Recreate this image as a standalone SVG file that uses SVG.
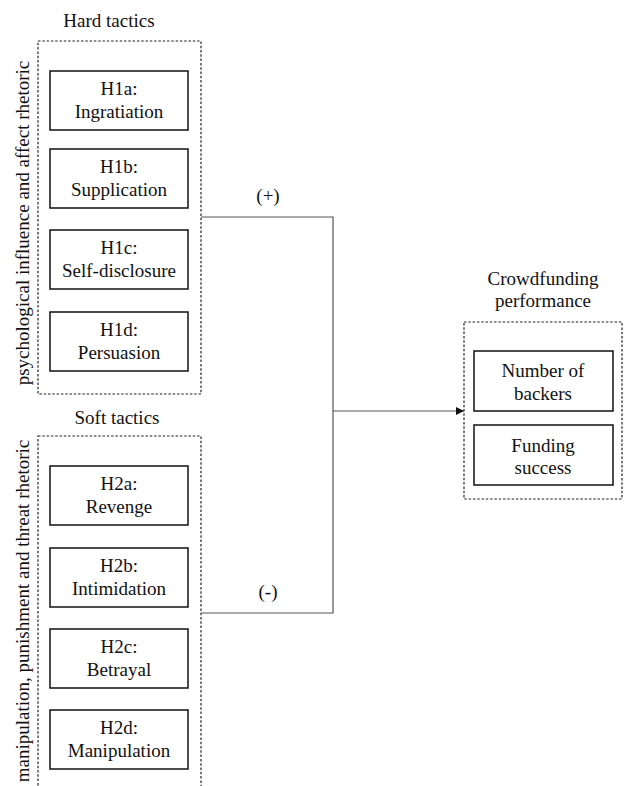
<svg xmlns="http://www.w3.org/2000/svg" width="624" height="786" viewBox="0 0 624 786" font-family="Liberation Serif, serif">
<style>
text{font-size:19px;fill:#111;text-anchor:middle}
.box{fill:#fff;stroke:#111;stroke-width:1.5}
.grp{fill:none;stroke:#222;stroke-width:1.2;stroke-dasharray:2.5,1.8}
.con{fill:none;stroke:#555;stroke-width:1.2}
</style>
<defs>
<marker id="arr" markerWidth="10" markerHeight="10" refX="9" refY="5" orient="auto" markerUnits="userSpaceOnUse">
<path d="M1,1 L9,5 L1,9 Z" fill="#111"/>
</marker>
</defs>
<rect width="624" height="786" fill="#fff"/>
<g id="hard-group">
<text x="109" y="27">Hard tactics</text>
<rect class="grp" x="38" y="41" width="163" height="353"/>
<text transform="translate(29,223) rotate(-90)">psychological influence and affect rhetoric</text>
</g>
<g id="H1a"><rect class="box" x="50" y="71" width="138" height="59"/><text x="119" y="95">H1a:</text><text x="119" y="118">Ingratiation</text></g>
<g id="H1b"><rect class="box" x="50" y="149" width="138" height="59"/><text x="119" y="173">H1b:</text><text x="119" y="196">Supplication</text></g>
<g id="H1c"><rect class="box" x="50" y="230" width="138" height="59"/><text x="119" y="254">H1c:</text><text x="119" y="277">Self-disclosure</text></g>
<g id="H1d"><rect class="box" x="50" y="312" width="138" height="59"/><text x="119" y="336">H1d:</text><text x="119" y="359">Persuasion</text></g>
<g id="soft-group">
<text x="117" y="424">Soft tactics</text>
<rect class="grp" x="38" y="436" width="163" height="360"/>
<text transform="translate(29,611) rotate(-90)">manipulation, punishment and threat rhetoric</text>
</g>
<g id="H2a"><rect class="box" x="50" y="466" width="138" height="59"/><text x="119" y="490">H2a:</text><text x="119" y="513">Revenge</text></g>
<g id="H2b"><rect class="box" x="50" y="548" width="138" height="59"/><text x="119" y="572">H2b:</text><text x="119" y="595">Intimidation</text></g>
<g id="H2c"><rect class="box" x="50" y="629" width="138" height="59"/><text x="119" y="653">H2c:</text><text x="119" y="676">Betrayal</text></g>
<g id="H2d"><rect class="box" x="50" y="710" width="138" height="59"/><text x="119" y="734">H2d:</text><text x="119" y="757">Manipulation</text></g>
<g id="performance-group">
<text x="543" y="285">Crowdfunding</text>
<text x="543" y="307">performance</text>
<rect class="grp" x="464" y="322" width="158" height="177"/>
</g>
<g id="backers"><rect class="box" x="474" y="351" width="139" height="60"/><text x="543" y="377">Number of</text><text x="543" y="400">backers</text></g>
<g id="funding"><rect class="box" x="474" y="425" width="139" height="60"/><text x="543" y="452">Funding</text><text x="543" y="474">success</text></g>
<g id="connectors">
<polyline class="con" points="201,217 333,217 333,613 201,613"/>
<line class="con" x1="333" y1="411" x2="464" y2="411" marker-end="url(#arr)"/>
<text x="268" y="202">(+)</text>
<text x="268" y="598">(-)</text>
</g>
</svg>
